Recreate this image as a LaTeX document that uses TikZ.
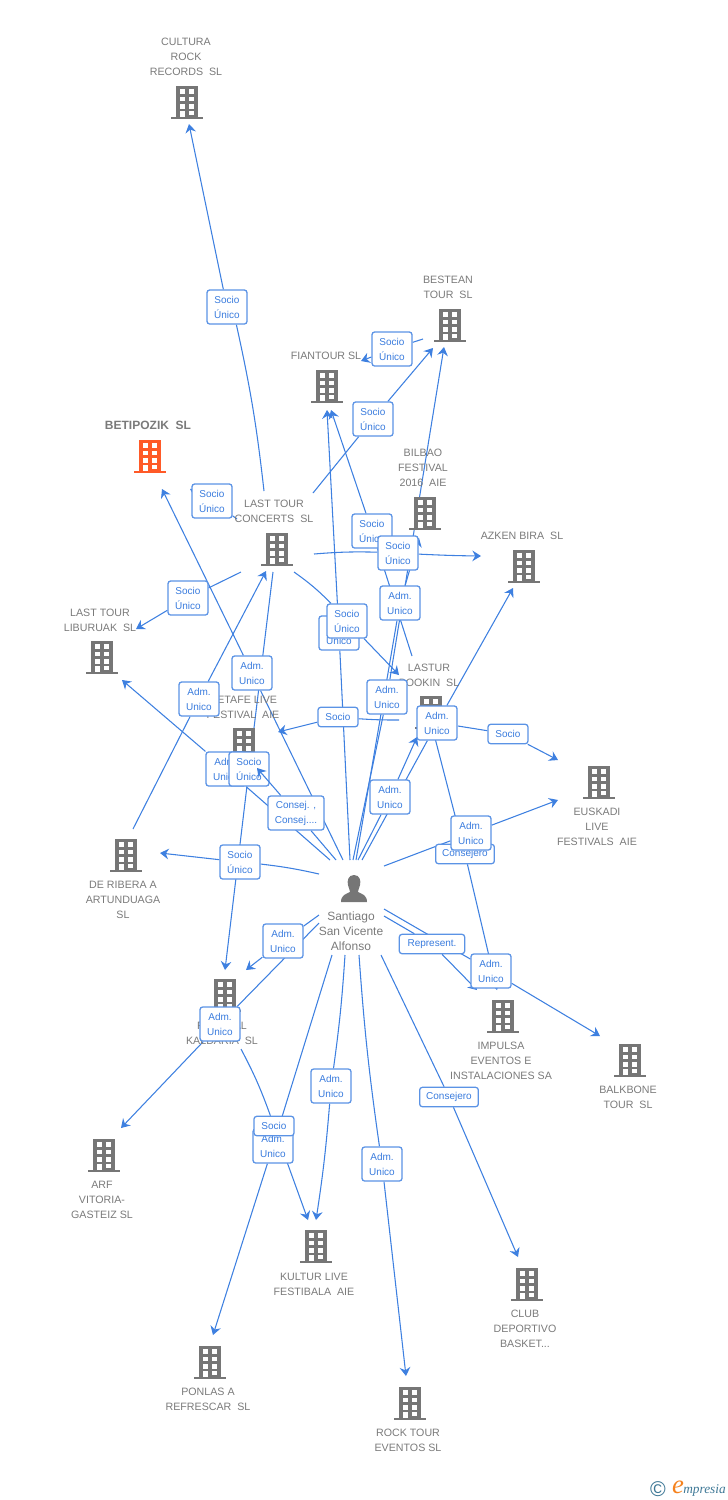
\documentclass[tikz,border=0pt]{standalone}
\usepackage{fontspec}
\setmainfont{Liberation Sans}
\newfontfamily\logofont{Liberation Serif}
\usetikzlibrary{arrows.meta, backgrounds}
\definecolor{wireblue}{RGB}{62,128,224}
\definecolor{tagblue}{RGB}{58,124,222}
\definecolor{firmgray}{RGB}{118,118,118}
\definecolor{textgray}{RGB}{122,122,122}
\definecolor{hotorange}{RGB}{255,90,40}
\definecolor{logoblue}{RGB}{62,120,150}
\definecolor{logoorange}{RGB}{245,130,30}

\tikzset{
  wire/.style = {draw = wireblue, line width = 0.8pt},
  arrow/.style = {wire, -{Stealth[length = 6.5pt, width = 8pt, inset = 2.2pt]}},
  tagtwo/.style = {draw = wireblue!85, fill = white, line width = 0.95pt, rounded corners = 2pt,
                   text = tagblue, font = \fontsize{7.5}{11.25}\selectfont, align = center,
                   minimum width = 30pt, minimum height = 25.5pt, inner sep = 0pt},
  tagone/.style = {tagtwo, minimum height = 14.5pt},
  firm/.style = {text = textgray, font = \fontsize{8}{11.25}\selectfont, align = center, inner sep = 0pt},
  bldg/.pic = {
    \fill [#1] (-11, -16) rectangle (11, 15);
    \fill [#1] (-16, 14.5) rectangle (16, 16.5);
    \fill [white] (-7, -13.5) rectangle (-2, -8.5);
    \fill [white] (2, -13.5) rectangle (7, -8.5);
    \fill [white] (-7, -5.5) rectangle (-2, -1);
    \fill [white] (2, -5.5) rectangle (7, -1);
    \fill [white] (-7, 2.3) rectangle (-2, 6.7);
    \fill [white] (2, 2.3) rectangle (7, 6.7);
    \fill [white] (-7, 8.7) rectangle (-2, 14.5);
    \fill [white] (2, 8.7) rectangle (7, 12.7);
  },
  pics/bldg/.default = firmgray
}

\begin{document}
\begin{tikzpicture}[x = 0.75pt, y = -0.75pt]
  \useasboundingbox (0, 0) rectangle (728, 1500);

  % companies
  \pic (cultura) at (187, 102) {bldg};
  \node [firm] (culturatext) at (186, 56.5) {CULTURA\\ROCK\\RECORDS~~SL};
  \pic (bestean) at (450, 325) {bldg};
  \node [firm] (besteantext) at (448, 287) {BESTEAN\\TOUR~~SL};
  \pic (fiantour) at (327, 386) {bldg};
  \node [firm] (fiantourtext) at (326, 355.5) {FIANTOUR SL};
  \pic (betipozik) at (150, 456) {bldg = hotorange};
  \node [firm, font = \fontsize{9}{11.25}\selectfont\bfseries, text = textgray] (betipoziktext) at (148, 425) {BETIPOZIK~~SL};
  \pic (bilbao) at (425, 513) {bldg};
  \node [firm] (bilbaotext) at (423, 467.5) {BILBAO\\FESTIVAL\\2016~~AIE};
  \pic (concerts) at (277, 549) {bldg};
  \node [firm] (concertstext) at (274, 511) {LAST TOUR\\CONCERTS~~SL};
  \pic (azken) at (524, 566) {bldg};
  \node [firm] (azkentext) at (522, 535.5) {AZKEN BIRA~~SL};
  \pic (liburuak) at (102, 657) {bldg};
  \node [firm] (liburuaktext) at (100, 620) {LAST TOUR\\LIBURUAK~~SL};
  \pic (lastur) at (431, 712) {bldg};
  \node [firm] (lasturtext) at (429, 675) {LASTUR\\BOOKIN~~SL};
  \pic (getafe) at (244, 744) {bldg};
  \node [firm] (getafetext) at (243, 707) {GETAFE LIVE\\FESTIVAL~~AIE};
  \pic (euskadi) at (599, 782) {bldg};
  \node [firm] (euskaditext) at (597, 826.5) {EUSKADI\\LIVE\\FESTIVALS~~AIE};
  \pic (ribera) at (126, 855) {bldg};
  \node [firm] (riberatext) at (123, 899.5) {DE RIBERA A\\ARTUNDUAGA\\SL};
  \pic (impulsa) at (503, 1016) {bldg};
  \node [firm] (impulsatext) at (501, 1060.5) {IMPULSA\\EVENTOS E\\INSTALACIONES SA};
  \pic (balkbone) at (630, 1060) {bldg};
  \node [firm] (balkbonetext) at (628, 1097) {BALKBONE\\TOUR~~SL};
  \pic (kaldaria) at (225, 995) {bldg};
  \node [firm] (kaldariatext) at (222, 1033) {FESTIVAL\\KALDARIA~~SL};
  \pic (arf) at (104, 1155) {bldg};
  \node [firm] (arftext) at (102, 1199.5) {ARF\\VITORIA-\\GASTEIZ SL};
  \pic (kultur) at (316, 1246) {bldg};
  \node [firm] (kulturtext) at (314, 1284) {KULTUR LIVE\\FESTIBALA~~AIE};
  \pic (club) at (527, 1284) {bldg};
  \node [firm] (clubtext) at (525, 1328.5) {CLUB\\DEPORTIVO\\BASKET...};
  \pic (ponlas) at (210, 1362) {bldg};
  \node [firm] (ponlastext) at (208, 1399) {PONLAS A\\REFRESCAR~~SL};
  \pic (rock) at (410, 1403) {bldg};
  \node [firm] (rocktext) at (408, 1440) {ROCK TOUR\\EVENTOS SL};

  % person
  \fill [firmgray] (354, 875) .. controls (348, 875) and (347, 881) .. (348, 885)
    .. controls (349, 889) and (350, 890) .. (350, 892) .. controls (346, 894) and (341, 895) .. (341, 902)
    -- (367, 902) .. controls (367, 895) and (362, 894) .. (358, 892)
    .. controls (358, 890) and (359, 889) .. (360, 885) .. controls (361, 881) and (360, 875) .. (354, 875) -- cycle;
  \node [firm, font = \fontsize{9}{11.25}\selectfont] (santiago) at (351, 931.5) {Santiago\\San Vicente\\Alfonso};

  % labels
  \node [tagtwo] (tag1) at (227, 307) {Socio\\Único};
  \node [tagtwo] (tag2) at (392, 349) {Socio\\Único};
  \node [tagtwo] (tag3) at (373, 419) {Socio\\Único};
  \node [tagtwo] (tag4) at (212, 501) {Socio\\Único};
  \node [tagtwo] (tag5) at (372, 531) {Socio\\Único};
  \node [tagtwo] (tag6) at (398, 553) {Socio\\Único};
  \node [tagtwo] (tag7) at (188, 598) {Socio\\Único};
  \node [tagtwo] (tag8) at (400, 603) {Adm.\\Unico};
  \node [tagtwo] (tag9) at (339, 633) {Adm.\\Unico};
  \node [tagtwo] (tag10) at (347, 621) {Socio\\Único};
  \node [tagtwo] (tag11) at (252, 673) {Adm.\\Unico};
  \node [tagtwo] (tag12) at (199, 699) {Adm.\\Unico};
  \node [tagtwo] (tag13) at (387, 697) {Adm.\\Unico};
  \node [tagone] (tag14) at (338, 717) {Socio};
  \node [tagtwo] (tag15) at (437, 723) {Adm.\\Unico};
  \node [tagone] (tag16) at (508, 734) {Socio};
  \node [tagtwo] (tag17) at (226, 769) {Adm.\\Unico};
  \node [tagtwo] (tag18) at (249, 769) {Socio\\Único};
  \node [tagtwo] (tag19) at (390, 797) {Adm.\\Unico};
  \node [tagtwo, minimum width = 42pt] (tag20) at (296, 813) {Consej. ,\\Consej....};
  \node [tagone, minimum width = 44pt] (tag21) at (465, 854) {Consejero};
  \node [tagtwo] (tag22) at (471, 833) {Adm.\\Unico};
  \node [tagtwo] (tag23) at (240, 862) {Socio\\Único};
  \node [tagtwo] (tag24) at (283, 941) {Adm.\\Unico};
  \node [tagone, minimum width = 49pt] (tag25) at (432, 944) {Represent.};
  \node [tagtwo] (tag26) at (491, 971) {Adm.\\Unico};
  \node [tagtwo] (tag27) at (220, 1024) {Adm.\\Unico};
  \node [tagtwo] (tag28) at (331, 1086) {Adm.\\Unico};
  \node [tagone, minimum width = 44pt] (tag29) at (449, 1097) {Consejero};
  \node [tagtwo] (tag30) at (273, 1146) {Adm.\\Unico};
  \node [tagone] (tag31) at (274, 1126) {Socio};
  \node [tagtwo] (tag32) at (382, 1164) {Adm.\\Unico};

  % line ends
  \coordinate (from1) at (264, 491);      \coordinate (to1) at (189, 124);
  \coordinate (from2) at (423, 339);      \coordinate (to2) at (361, 361);
  \coordinate (from3) at (313, 493);      \coordinate (to3) at (433, 348);
  \coordinate (from4) at (237, 519);      \coordinate (to4) at (190, 489);
  \coordinate (from5) at (412, 656);      \coordinate (to5) at (331, 410);
  \coordinate (from6) at (314, 554);      \coordinate (to6) at (481, 556);
  \coordinate (from7) at (241, 572);      \coordinate (to7) at (136, 629);
  \coordinate (from8) at (356, 860);      \coordinate (to8) at (419, 538);
  \coordinate (from9) at (350, 860);      \coordinate (to9) at (327, 410);
  \coordinate (from10) at (294, 572);     \coordinate (to10) at (399, 675);
  \coordinate (from11) at (343, 860);     \coordinate (to11) at (162, 489);
  \coordinate (from12) at (133, 829);     \coordinate (to12) at (266, 571);
  \coordinate (from13) at (353, 860);     \coordinate (to13) at (444, 347);
  \coordinate (from14) at (399, 720);     \coordinate (to14) at (278, 732);
  \coordinate (from15) at (362, 860);     \coordinate (to15) at (513, 588);
  \coordinate (from16) at (458, 726);     \coordinate (to16) at (558, 760);
  \coordinate (from17) at (330, 860);     \coordinate (to17) at (122, 680);
  \coordinate (from18) at (273, 572);     \coordinate (to18) at (225, 970);
  \coordinate (from19) at (358, 860);     \coordinate (to19) at (417, 737);
  \coordinate (from20) at (336, 860);     \coordinate (to20) at (257, 768);
  \coordinate (from21) at (435, 738);     \coordinate (to21) at (497, 990);
  \coordinate (from22) at (384, 866);     \coordinate (to22) at (558, 800);
  \coordinate (from23) at (319, 874);     \coordinate (to23) at (160, 853);
  \coordinate (from24) at (319, 915);     \coordinate (to24) at (246, 970);
  \coordinate (from25) at (384, 916);     \coordinate (to25) at (477, 990);
  \coordinate (from26) at (384, 909);     \coordinate (to26) at (600, 1036);
  \coordinate (from27) at (319, 923);     \coordinate (to27) at (121, 1128);
  \coordinate (from28) at (345, 955);     \coordinate (to28) at (316, 1220);
  \coordinate (from29) at (381, 955);     \coordinate (to29) at (518, 1257);
  \coordinate (from30) at (332, 955);     \coordinate (to30) at (213, 1335);
  \coordinate (from31) at (241, 1049);    \coordinate (to31) at (308, 1220);
  \coordinate (from32) at (359, 955);     \coordinate (to32) at (406, 1376);

  \begin{pgfonlayer}{background}
    \draw [wire] (from1) to [bend right = 3] (tag1.-62);
    \draw [arrow] (tag1) -- (to1);
    \draw [wire] (from2) -- (tag2);
    \draw [arrow] (tag2) -- (to2);
    \draw [wire] (from3) -- (tag3);
    \draw [arrow] (tag3) -- (to3);
    \draw [wire] (from4) -- (tag4);
    \draw [arrow] (tag4) -- (to4);
    \draw [wire] (from5) -- (tag5);
    \draw [arrow] (tag5) -- (to5);
    \draw [wire] (from6) to [bend left = 3] (tag6);
    \draw [arrow] (tag6) to [bend right = 1] (to6);
    \draw [wire] (from7) -- (tag7);
    \draw [arrow] (tag7) -- (to7);
    \draw [wire] (from8) -- (tag8);
    \draw [arrow] (tag8) -- (to8);
    \draw [wire] (from9) -- (tag9);
    \draw [arrow] (tag9) -- (to9);
    \draw [wire] (from10) to [bend left = 5] (tag10);
    \draw [arrow] (tag10) -- (to10);
    \draw [wire] (from11) -- (tag11);
    \draw [arrow] (tag11) -- (to11);
    \draw [wire] (from12) -- (tag12);
    \draw [arrow] (tag12) -- (to12);
    \draw [wire] (from13) -- (tag13);
    \draw [arrow] (tag13) -- (to13);
    \draw [wire] (from14) to [bend left = 2] (tag14);
    \draw [arrow] (tag14) -- (to14);
    \draw [wire] (from15) -- (tag15);
    \draw [arrow] (tag15) -- (to15);
    \draw [wire] (from16) -- (tag16);
    \draw [arrow] (tag16) -- (to16);
    \draw [wire] (from17) -- (tag17);
    \draw [arrow] (tag17) -- (to17);
    \draw [wire] (from18) -- (tag18);
    \draw [arrow] (tag18) -- (to18);
    \draw [wire] (from19) -- (tag19);
    \draw [arrow] (tag19) -- (to19);
    \draw [wire] (from20) -- (tag20);
    \draw [wire] (from21) -- (tag21);
    \draw [arrow] (tag21) -- (to21);
    \draw [wire] (from22) -- (tag22);
    \draw [arrow] (tag22) -- (to22);
    \draw [wire] (from23) to [bend right = 3] (tag23);
    \draw [arrow] (tag23) -- (to23);
    \draw [wire] (from24) -- (tag24);
    \draw [arrow] (tag24) -- (to24);
    \draw [wire] (from25) -- (tag25);
    \draw [arrow] (tag25) -- (to25);
    \draw [wire] (from26) -- (tag26);
    \draw [arrow] (tag26) -- (to26);
    \draw [wire] (from27) -- (tag27);
    \draw [arrow] (tag27) -- (to27);
    \draw [wire] (from28) to [bend left = 2] (tag28);
    \draw [arrow] (tag28) to [bend left = 2] (to28);
    \draw [wire] (from29) -- (tag29);
    \draw [arrow] (tag29) -- (to29);
    \draw [wire] (from30) -- (tag30);
    \draw [arrow] (tag30) -- (to30);
    \draw [wire] (from31) to [bend left = 4] (tag31);
    \draw [arrow] (tag31) -- (to31);
    \draw [wire] (from32) to [bend right = 2] (tag32);
    \draw [arrow] (tag32) -- (to32);
  \end{pgfonlayer}
  \draw [arrow] (tag20) -- (to20);

  % logo
  \node [text = logoblue, font = \fontsize{16}{16}\selectfont, inner sep = 0pt] (logocopy) at (658, 1489) {©};
  \node [text = logoorange, font = \logofont\itshape\fontsize{20}{20}\selectfont, inner sep = 0pt] (logoe) at (678, 1487) {e};
  \node [text = logoblue, font = \logofont\itshape\fontsize{10}{10}\selectfont, inner sep = 0pt, anchor = west] (logoname) at (683, 1490) {mpresia};
\end{tikzpicture}
\end{document}
